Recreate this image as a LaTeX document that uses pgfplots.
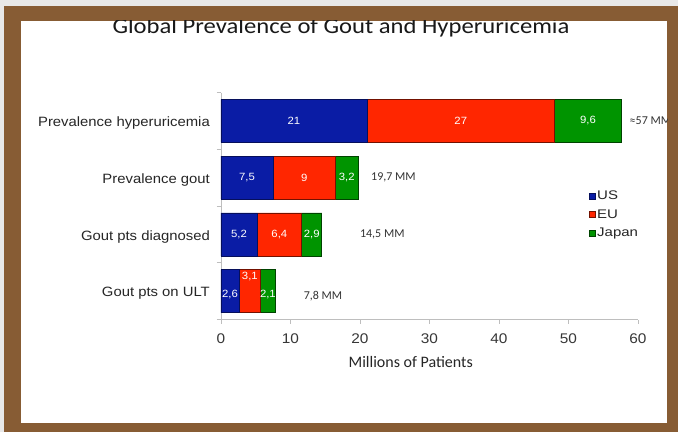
\documentclass[border=0pt]{standalone}
\usepackage{fontspec}
\setmainfont{Liberation Sans}
\newfontfamily\carlito{Carlito}
\usepackage{pgfplots}
\usepackage{pgfplotstable}
\pgfplotsset{compat=1.18}

\definecolor{usblue}{RGB}{10,28,165}
\definecolor{eured}{RGB}{255,38,0}
\definecolor{jpgreen}{RGB}{0,148,0}
\definecolor{framebrown}{RGB}{135,92,52}
\definecolor{axisgray}{RGB}{190,190,190}
\definecolor{labelgray}{RGB}{55,55,55}

% patients (millions) per region, one row per category
\pgfplotstableread{
pos US EU Japan
0 21 27 9.6
1 7.5 9 3.2
2 5.2 6.4 2.9
3 2.6 3.1 2.1
}\prevalence

% value labels, placed at the middle of each segment
\pgfplotstableread{
x y lab
10.5 0 21
34.5 0 27
52.8 0 9,6
3.75 1 7,5
12 1 9
18.1 1 3,2
2.6 2 5,2
8.4 2 6,4
13.05 2 2,9
1.3 3.06 2,6
4.15 2.74 3,1
6.75 3.06 2,1
}\seglabels

\pgfplotsset{
  chartgeom/.style={
    at={(221pt,112.5pt)}, anchor=south west,
    scale only axis, width=417pt, height=227pt,
    xmin=0, xmax=60, ymin=-0.5, ymax=3.5, y dir=reverse,
  },
}

\begin{document}
\begin{tikzpicture}[x=1pt,y=1pt]
\fill[gray!18] (0,0) rectangle (678,432);
\fill[framebrown] (4,0) rectangle (678,426);
\fill[white] (21,9) rectangle (667,411);
\begin{scope}
\clip (21,9) rectangle (667,411);
\node[anchor=base, text=black!90, xscale=1.12, font=\carlito\fontsize{22}{26}\selectfont] at (341,398)
  {Global Prevalence of Gout and Hyperuricemia};

\begin{axis}[
  chartgeom,
  xbar stacked, bar width=43pt,
  axis x line*=bottom, axis y line*=left,
  axis line style={draw=axisgray, line width=0.8pt},
  /pgf/number format/assume math mode=true,
  xtick={0,10,...,60},
  ytick={0,1,2,3},
  yticklabels={Prevalence hyperuricemia, Prevalence gout, Gout pts diagnosed, Gout pts on ULT},
  minor ytick={-0.5,0.5,1.5,2.5,3.5},
  tick align=outside,
  major tick length=4pt, minor tick length=4pt,
  x tick style={draw=axisgray, line width=0.8pt},
  major y tick style={draw=none},
  minor y tick style={draw=axisgray, line width=0.8pt},
  xticklabel style={font=\fontsize{14}{16}\selectfont, text=labelgray, xscale=1.1, yshift=-7pt},
  yticklabel style={font=\fontsize{13.5}{16}\selectfont, text=black!85, xscale=1.1, xshift=-3pt, yshift=-2.5pt},
  xlabel={Millions of Patients},
  xlabel style={font=\carlito\fontsize{16}{19}\selectfont, text=black!85,
    at={(axis description cs:0.455,0)}, anchor=base, yshift=-47.5pt},
  legend cell align=left,
  legend style={at={(axis description cs:0.882,0.575)}, anchor=north west,
    draw=none, fill=none, inner sep=0pt, row sep=5.5pt,
    font=\fontsize{12.5}{14}\selectfont, text=black!85,
    nodes={xscale=1.2, inner sep=1.5pt}},
  legend image code/.code={\draw[#1, line width=0.4pt] (0pt,-3pt) rectangle (6pt,3pt);},
]
\addplot[fill=usblue, draw=usblue!55!black, line width=0.6pt] table[x=US, y=pos] {\prevalence};
\addplot[fill=eured, draw=eured!45!black, line width=0.6pt] table[x=EU, y=pos] {\prevalence};
\addplot[fill=jpgreen, draw=jpgreen!45!black, line width=0.6pt] table[x=Japan, y=pos] {\prevalence};
\legend{US, EU, Japan}
\end{axis}

\begin{axis}[chartgeom, hide axis, clip=false]
\addplot[draw=none, mark=none, nodes near coords, point meta=explicit symbolic,
  nodes near coords align=center,
  every node near coord/.append style={text=white, font=\fontsize{10.5}{12}\selectfont, xscale=1.08}]
  table[x=x, y=y, meta=lab] {\seglabels};
\addplot[draw=none, mark=none, nodes near coords, point meta=explicit symbolic,
  nodes near coords align=center,
  every node near coord/.append style={anchor=west, text=black!80, font=\carlito\fontsize{12}{14}\selectfont}]
  coordinates {(58.3,0) [≈57 MM] (21.1,1) [19,7 MM] (19.5,2) [14,5 MM] (11.4,3.09) [7,8 MM]};
\end{axis}
\end{scope}
\end{tikzpicture}
\end{document}
